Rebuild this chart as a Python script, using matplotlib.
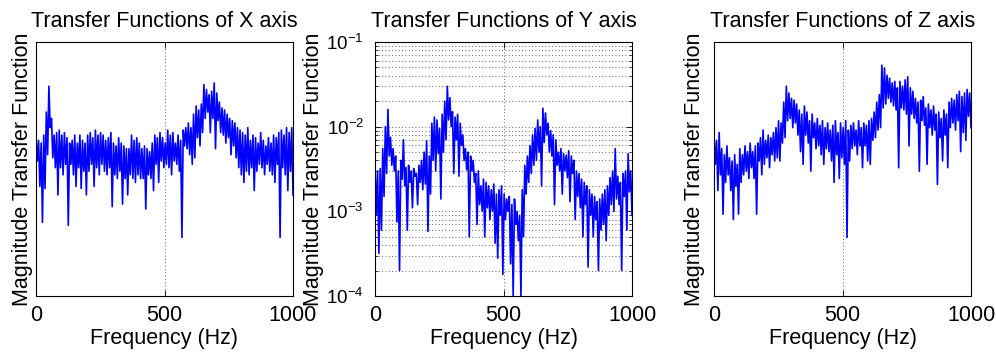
import numpy as np
import matplotlib.pyplot as plt
from matplotlib.ticker import NullLocator, FixedLocator, LogLocator

plt.rcParams['font.family'] = ['Liberation Sans', 'DejaVu Sans']
plt.rcParams['mathtext.fontset'] = 'custom'
plt.rcParams['mathtext.rm'] = 'Liberation Sans'
plt.rcParams['mathtext.it'] = 'Liberation Sans:italic'

# magnitude spectra, alternating band top / band bottom every 5 Hz
x_mag = [4.2, 3.4, 4.1, 2.7, 4.0, 1.95, 4.3, 2.65, 5.3, 3.6,
         6.7, 4.6, 5.0, 3.5, 4.3, 3.2, 4.4, 2.5, 4.5, 3.2,
         4.3, 3.0, 4.4, 3.3, 4.2, 1.9, 4.0, 3.3, 4.1, 3.0,
         4.3, 2.7, 4.0, 3.2, 4.3, 2.65, 4.1, 3.1, 4.0, 2.5,
         4.3, 3.1, 4.4, 3.3, 4.2, 2.7, 4.5, 3.2, 4.3, 3.0,
         4.4, 3.3, 4.3, 3.1, 4.1, 3.0, 4.2, 3.2, 4.4, 2.25,
         4.0, 3.0, 3.9, 2.9, 4.2, 3.1, 4.0, 2.3, 3.9, 2.9,
         3.8, 2.5, 3.8, 3.0, 4.3, 2.9, 4.1, 2.8, 4.2, 3.0,
         4.0, 2.9, 3.8, 2.9, 3.9, 2.2, 3.8, 3.0, 3.7, 2.9,
         4.0, 2.6, 4.3, 3.3, 4.2, 2.8, 4.4, 3.4, 4.2, 3.2,
         4.0, 3.3, 4.5, 3.2, 4.3, 3.0, 4.4, 3.4, 4.0, 3.3,
         4.3, 3.1, 4.1, 1.7, 4.5, 3.9, 4.6, 3.8, 4.8, 3.6,
         4.6, 3.3, 5.2, 3.5, 5.6, 4.2, 5.4, 3.9, 5.7, 4.4,
         6.8, 5.0, 6.5, 5.3, 6.2, 4.4, 6.4, 5.0, 6.9, 3.8,
         6.3, 4.9, 5.8, 4.4, 5.5, 4.3, 5.4, 4.0, 5.2, 4.2,
         5.0, 3.6, 4.9, 3.9, 4.8, 3.5, 4.6, 3.2, 4.5, 3.0,
         4.4, 2.8, 4.3, 3.1, 4.6, 3.0, 4.1, 3.2, 4.3, 2.6,
         4.2, 3.1, 4.0, 3.3, 4.4, 3.2, 4.1, 3.0, 3.9, 3.3,
         4.2, 3.1, 4.0, 3.0, 4.3, 2.8, 4.2, 3.3, 4.4, 1.7,
         4.5, 3.2, 4.3, 3.0, 4.6, 2.6, 4.4, 3.1, 4.6, 2.5]

y_mag = [0.0035, 0.0009, 0.0030, 0.00032, 0.0032, 0.0006, 0.0055, 0.0015, 0.010, 0.0028,
         0.016, 0.0045, 0.0075, 0.0035, 0.0055, 0.0030, 0.0045, 0.00075, 0.0030, 0.0002,
         0.0040, 0.0024, 0.0070, 0.0020, 0.0033, 0.0006, 0.0035, 0.0022, 0.0030, 0.0011,
         0.0032, 0.0026, 0.0028, 0.0012, 0.0035, 0.0022, 0.0040, 0.0018, 0.0050, 0.0021,
         0.0068, 0.00058, 0.0045, 0.0016, 0.011, 0.0040, 0.013, 0.0030, 0.012, 0.0048,
         0.0095, 0.0014, 0.014, 0.0050, 0.020, 0.0070, 0.030, 0.012, 0.022, 0.010,
         0.015, 0.0028, 0.013, 0.0070, 0.014, 0.0026, 0.011, 0.0060, 0.0080, 0.0040,
         0.0055, 0.0031, 0.0050, 0.0005, 0.0045, 0.0030, 0.0040, 0.0022, 0.0028, 0.0007,
         0.0030, 0.0012, 0.0020, 0.0010, 0.0024, 0.0005, 0.0022, 0.0011, 0.0020, 0.0008,
         0.0018, 0.0010, 0.0021, 0.00042, 0.0016, 0.00028, 0.0018, 0.0009, 0.0020, 0.00018,
         0.0016, 0.0008, 0.0014, 0.0010, 0.0015, 0.00024, 0.0012, 0.0001, 0.0014, 0.0007,
         0.0010, 0.00045, 0.0009, 0.0001, 0.0018, 0.0005, 0.0035, 0.0016, 0.0045, 0.0022,
         0.0060, 0.0028, 0.0080, 0.0035, 0.0095, 0.0040, 0.0120, 0.0050, 0.0100, 0.0020,
         0.0165, 0.0065, 0.0145, 0.0080, 0.011, 0.0050, 0.0090, 0.0045, 0.0080, 0.0012,
         0.0070, 0.0035, 0.0050, 0.0030, 0.0055, 0.0016, 0.0048, 0.0030, 0.0046, 0.0025,
         0.0052, 0.0013, 0.0045, 0.0028, 0.0040, 0.0008, 0.0030, 0.0015, 0.0028, 0.0011,
         0.0024, 0.0005, 0.0022, 0.0012, 0.0020, 0.00022, 0.0018, 0.0009, 0.0016, 0.0005,
         0.0015, 0.0008, 0.0013, 0.0002, 0.0014, 0.0006, 0.0016, 0.0007, 0.0018, 0.00045,
         0.0020, 0.0009, 0.0025, 0.0012, 0.0030, 0.0010, 0.0055, 0.0014, 0.0026, 0.0012,
         0.0022, 0.0002, 0.0028, 0.0015, 0.0030, 0.0006, 0.0048, 0.0017, 0.0030, 0.0009]

z_mag = [4.3, 3.3, 4.1, 2.6, 4.4, 3.0, 3.8, 2.1, 3.6, 2.8,
         3.9, 3.0, 3.5, 2.6, 3.4, 2.0, 3.6, 2.7, 3.3, 2.1,
         3.8, 2.8, 3.6, 3.0, 3.9, 3.1, 3.7, 2.9, 4.0, 3.2,
         3.7, 2.9, 3.9, 2.1, 4.0, 3.4, 4.2, 3.0, 4.5, 3.3,
         4.1, 3.5, 4.3, 3.2, 4.2, 3.6, 4.4, 3.4, 4.6, 3.5,
         4.9, 3.4, 4.8, 4.0, 5.8, 4.2, 6.7, 4.9, 6.3, 5.0,
         6.0, 4.6, 5.9, 4.8, 5.7, 4.3, 5.4, 3.7, 5.2, 3.3,
         5.6, 4.3, 5.3, 4.0, 4.9, 3.1, 5.2, 4.2, 4.8, 3.8,
         5.0, 3.9, 4.7, 3.6, 4.9, 3.3, 4.6, 3.8, 4.8, 3.7,
         4.5, 3.4, 4.7, 2.8, 4.9, 3.6, 4.4, 2.9, 4.8, 3.5,
         4.6, 3.3, 4.9, 1.7, 4.5, 3.4, 4.7, 3.8, 4.8, 3.9,
         4.5, 3.6, 4.9, 3.9, 4.6, 3.2, 4.8, 3.9, 4.7, 3.4,
         4.9, 3.3, 5.0, 4.1, 5.3, 4.2, 5.8, 4.5, 6.2, 4.6,
         8.1, 5.5, 7.9, 5.7, 7.4, 6.0, 7.2, 5.8, 6.9, 5.6,
         7.0, 5.4, 6.6, 3.2, 7.0, 5.5, 6.7, 5.4, 7.1, 5.2,
         7.3, 3.9, 6.6, 5.2, 6.4, 5.0, 6.0, 4.8, 5.8, 3.1,
         5.9, 4.9, 6.1, 4.7, 5.5, 3.3, 5.7, 4.6, 5.4, 4.3,
         5.6, 4.5, 5.2, 2.75, 5.3, 4.2, 5.0, 3.4, 5.4, 4.3,
         5.2, 3.2, 5.8, 4.6, 6.0, 4.8, 5.9, 4.5, 6.2, 4.9,
         6.4, 3.7, 6.1, 4.4, 6.3, 4.1, 6.5, 5.1, 6.3, 4.6]

titles = ['Transfer Functions of X axis',
          'Transfer Functions of Y axis',
          'Transfer Functions of Z axis']
lefts = [36, 375, 714]
label_x = [-0.012, -0.197, -0.035]

fig = plt.figure(figsize=(9.96, 3.56), dpi=100)
fs = 15.5

for i, mag in enumerate([x_mag, y_mag, z_mag]):
    ax = fig.add_axes([lefts[i] / 996, 1 - 296 / 356, 257 / 996, 254 / 356])
    freq = np.linspace(0, 1000, len(mag))
    ax.semilogy(freq, mag, color='#0000ff', lw=1.2)
    ax.set_xlim(0, 1000)
    ax.xaxis.set_major_locator(FixedLocator([0, 500, 1000]))
    ax.tick_params(direction='in', top=True, right=True, labelsize=fs,
                   length=4, width=0.6, pad=6.5)
    ax.tick_params(which='minor', direction='in', right=True, length=2, width=0.5)
    if i == 1:
        ax.set_ylim(1e-4, 1e-1)
        ax.yaxis.set_major_locator(LogLocator(base=10, numticks=10))
        ax.yaxis.set_minor_locator(LogLocator(base=10, subs=np.arange(2, 10), numticks=10))
        ax.grid(True, which='both', axis='y', ls=(0, (1, 3)), color='#333333', lw=0.6)
        ax.tick_params(axis='y', pad=8, labelsize=13.5)
    else:
        ax.set_ylim(1, 10)
        ax.yaxis.set_major_locator(NullLocator())
        ax.yaxis.set_minor_locator(NullLocator())
    ax.grid(True, which='major', axis='x', ls=(0, (1, 3)), color='#333333', lw=0.6)
    for s in ax.spines.values():
        s.set_linewidth(0.8)
    ax.set_title(titles[i], fontsize=fs, pad=11)
    ax.set_xlabel('Frequency (Hz)', fontsize=fs)
    ax.xaxis.set_label_coords(0.5, -0.125)
    ax.set_ylabel('Magnitude Transfer Function', fontsize=fs)
    ax.yaxis.set_label_coords(label_x[i], 0.5)

fig.savefig('out.png', dpi=100)
